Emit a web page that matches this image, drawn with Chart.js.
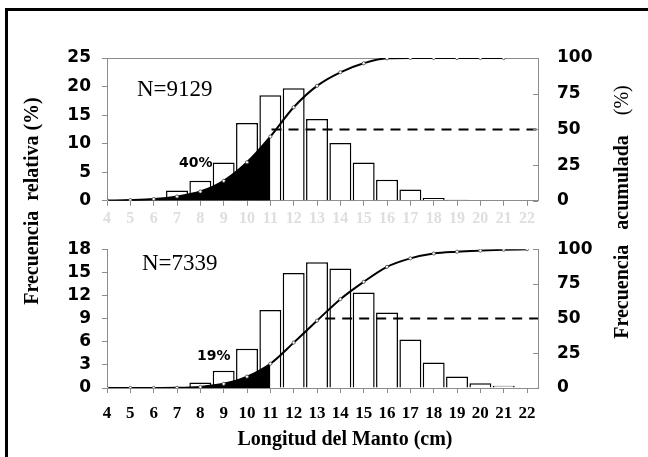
<!DOCTYPE html>
<html>
<head>
<meta charset="utf-8">
<script src="https://cdn.jsdelivr.net/npm/chart.js@4.4.0/dist/chart.umd.min.js"></script>
<style>
    body { margin: 0; background: #fff; width: 648px; height: 457px; overflow: hidden; position: relative; }
    #marco { position: absolute; left: 5px; top: 8px; width: 700px; height: 500px; border-left: 3px solid #000; border-top: 3px solid #000; }
    canvas { position: absolute; left: 0; }
    #graficoA { top: 0; }
    #graficoB { top: 220px; }
    .texto { position: absolute; white-space: pre; color: #000; }
    .titulo { font-family: "Liberation Serif", serif; font-weight: bold; font-size: 20px; line-height: 24px; width: 300px; text-align: center; }
    .vertical { transform: rotate(-90deg); }
    .n { font-family: "Liberation Serif", serif; font-size: 23px; line-height: 24px; }
    .pct { font-family: "DejaVu Sans", sans-serif; font-weight: bold; font-size: 14px; line-height: 16px; }
</style>
</head>
<body>
<div id="marco"></div>
<canvas id="graficoA" width="648" height="230"></canvas>
<canvas id="graficoB" width="648" height="237"></canvas>

<div class="texto titulo vertical" style="left:-119px; top:189px;">Frecuencia  relativa (%)</div>
<div class="texto titulo vertical" style="left:471px; top:200px;">Frecuencia   acumulada    <span style="font-weight:normal">(%)</span></div>
<div class="texto titulo" style="left:195px; top:426px;">Longitud del Manto (cm)</div>

<div class="texto n" style="left:137px; top:77px;">N=9129</div>
<div class="texto n" style="left:142px; top:251px;">N=7339</div>
<div class="texto pct" style="left:179px; top:154px;">40%</div>
<div class="texto pct" style="left:197px; top:347px;">19%</div>

<script>
'use strict'

// Longitud del manto (cm), una clase por barra.
const longitudes = [4, 5, 6, 7, 8, 9, 10, 11, 12, 13, 14, 15, 16, 17, 18, 19, 20, 21, 22];

// Panel superior (N=9129).
const frecRelA = [0, 0.1, 0.3, 1.8, 3.5, 6.7, 13.6, 18.5, 19.7, 14.3, 10.1, 6.7, 3.7, 2.0, 0.5, 0.2, 0.1, 0.1, 0];
const frecAcumA = [0.2, 0.5, 1.2, 3, 6.5, 14, 27, 45, 65.5, 80.5, 90, 96.3, 99.8, 100, 100, 100, 100, 100];

// Panel inferior (N=7339).
const frecRelB = [0, 0, 0, 0.1, 0.7, 2.25, 5.1, 10.1, 14.9, 16.3, 15.5, 12.4, 9.8, 6.3, 3.3, 1.5, 0.6, 0.3, 0.1];
const frecAcumB = [0, 0, 0, 0.1, 0.8, 3, 8.2, 17.5, 32.7, 48.5, 64, 76.5, 87.3, 93.4, 96.9, 98.2, 99, 99.6, 100];

// Area en negro hasta esta longitud; linea del 50 % desde donde empieza.
const limiteNegro = 11;
const mediana = 50;
const inicioMedianaA = 11.05;
const inicioMedianaB = 13.35;

// Ejes.
const xMin = 4;
const xMax = 22.47;
const ticksIzqA = [0, 25, 5];
const ticksIzqB = [0, 18, 3];
const ticksDer = [0, 100, 25];

const gris = '#8c8c8c';

// Marcas del eje derecho hacia dentro del grafico.
const marcasInternas = {
    id: 'marcasInternas',
    afterDatasetsDraw(chart) {
        const s = chart.scales.y1;
        const ctx = chart.ctx;
        ctx.save();
        ctx.strokeStyle = gris;
        ctx.lineWidth = 1;
        s.ticks.forEach((t) => {
            const y = Math.round(s.getPixelForValue(t.value)) + 0.5;
            ctx.beginPath();
            ctx.moveTo(s.left, y);
            ctx.lineTo(s.left - 5, y);
            ctx.stroke();
        });
        ctx.restore();
    }
};

function puntos(valores) {
    return valores.map((v, i) => ({x: longitudes[i], y: v}));
}

function crearPanel(id, frecRel, frecAcum, inicioMediana, ejeIzq, opciones) {
    const ctx = document.getElementById(id).getContext('2d');
    return new Chart(ctx, {
        type: 'bar',
        data: {
            datasets: [{
                type: 'line',
                data: [{x: inicioMediana, y: mediana}, {x: xMax, y: mediana}],
                yAxisID: 'y1',
                borderColor: '#000',
                borderWidth: 2,
                borderDash: [10, 7],
                pointRadius: 0,
                order: 0
            }, {
                type: 'line',
                data: puntos(frecAcum),
                yAxisID: 'y1',
                borderColor: '#000',
                borderWidth: 2,
                cubicInterpolationMode: 'monotone',
                pointRadius: 1.6,
                pointBorderWidth: 0.8,
                pointBorderColor: '#444',
                pointBackgroundColor: '#fff',
                fill: 'origin',
                backgroundColor: 'rgba(0,0,0,0)',
                segment: {
                    backgroundColor: (c) => longitudes[c.p1DataIndex] <= limiteNegro ? '#000' : 'rgba(0,0,0,0)'
                },
                order: 1
            }, {
                type: 'bar',
                data: puntos(frecRel),
                yAxisID: 'y',
                backgroundColor: '#fff',
                borderColor: '#000',
                borderWidth: 1.5,
                barPercentage: 0.94,
                categoryPercentage: 1,
                order: 2
            }]
        },
        options: {
            responsive: false,
            animation: false,
            devicePixelRatio: 1,
            layout: {
                padding: {top: opciones.arriba, left: 0, right: 0, bottom: 0}
            },
            plugins: {
                legend: {display: false},
                tooltip: {enabled: false}
            },
            scales: {
                x: {
                    type: 'linear',
                    min: xMin,
                    max: xMax,
                    offset: false,
                    ticks: {
                        stepSize: 1,
                        includeBounds: false,
                        autoSkip: false,
                        maxRotation: 0,
                        color: opciones.colorX,
                        padding: opciones.separacionX,
                        font: {family: 'Liberation Serif', weight: 'bold', size: opciones.tamX}
                    },
                    grid: {drawOnChartArea: false, offset: false, tickLength: 5, color: gris},
                    border: {color: gris},
                    afterFit: (s) => { s.height = opciones.altoX; }
                },
                y: {
                    position: 'left',
                    min: ejeIzq[0],
                    max: ejeIzq[1],
                    ticks: {
                        stepSize: ejeIzq[2],
                        autoSkip: false,
                        color: '#000',
                        padding: 11,
                        font: {family: 'DejaVu Sans', weight: 'bold', size: 17}
                    },
                    grid: {
                        drawOnChartArea: opciones.bordeArriba,
                        color: (c) => c.tick.value === ejeIzq[1] ? gris : 'rgba(0,0,0,0)',
                        tickColor: gris,
                        tickLength: 5
                    },
                    border: {color: gris},
                    afterFit: (s) => { s.width = 107; }
                },
                y1: {
                    position: 'right',
                    min: ticksDer[0],
                    max: ticksDer[1],
                    ticks: {
                        stepSize: ticksDer[2],
                        autoSkip: false,
                        color: '#000',
                        padding: 19,
                        font: {family: 'DejaVu Sans', weight: 'bold', size: 17}
                    },
                    grid: {drawOnChartArea: false, drawTicks: false},
                    border: {color: gris},
                    afterFit: (s) => { s.width = 110; }
                }
            }
        },
        plugins: [marcasInternas]
    });
}

crearPanel('graficoA', frecRelA, frecAcumA, inicioMedianaA, ticksIzqA,
    {arriba: 58, altoX: 26, colorX: '#dedede', separacionX: 3, tamX: 16, bordeArriba: true});
crearPanel('graficoB', frecRelB, frecAcumB, inicioMedianaB, ticksIzqB,
    {arriba: 16, altoX: 69, colorX: '#000', separacionX: 10, tamX: 17, bordeArriba: false});
</script>
</body>
</html>
